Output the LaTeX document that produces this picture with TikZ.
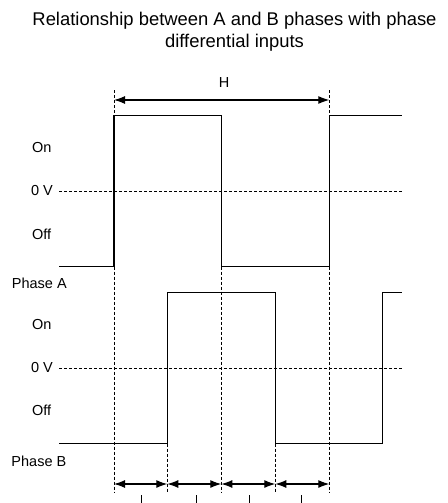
\documentclass[tikz,border=0pt]{standalone}
\usepackage{fontspec}
\setmainfont{Liberation Sans}
\usetikzlibrary{arrows.meta}

\tikzset{
  wave/.style={line width=1.1pt},
  guide/.style={line width=0.7pt, dash pattern=on 3pt off 2pt},
  span/.style={line width=1.1pt, {Latex[length=11pt,width=8pt]}-{Latex[length=11pt,width=8pt]}},
  lbl/.style={font=\fontsize{14.5}{16}\selectfont, inner sep=0pt}
}

\begin{document}
\begin{tikzpicture}[x=1pt,y=-1pt]
\useasboundingbox (0,0) rectangle (447,503);
% title
\node[font=\fontsize{18.4}{22}\selectfont, align=center, inner sep=0pt] (title) at (234.5,32)
  {Relationship between A and B phases with phase\\differential inputs};
% guide points
\coordinate (t1) at (114,90);
\coordinate (t1a) at (114,115.7);
\coordinate (t1b) at (114,266.7);
\coordinate (t5) at (329.3,90);
\coordinate (t5a) at (329.3,115.7);
\coordinate (t5b) at (329.3,266.7);
\coordinate (t3) at (221.3,266.7);
\coordinate (t2) at (167.3,443.7);
\coordinate (t4) at (275.3,443.7);
\coordinate (b1) at (114,493);
\coordinate (b2) at (167.3,493);
\coordinate (b3) at (221.3,493);
\coordinate (b4) at (275.3,493);
\coordinate (b5) at (329.3,493);
\draw[guide] (t1) -- (t1a);
\draw[guide] (t1b) -- (b1);
\draw[guide] (t5) -- (t5a);
\draw[guide] (t5b) -- (b5);
\draw[guide] (t2) -- (b2);
\draw[guide] (t3) -- (b3);
\draw[guide] (t4) -- (b4);
% zero lines
\coordinate (za) at (59.3,191);
\coordinate (zaend) at (401.7,191);
\coordinate (zb) at (59.3,368);
\coordinate (zbend) at (401.7,368);
\draw[guide] (za) -- (zaend);
\draw[guide] (zb) -- (zbend);
% phase A
\draw[wave] (59.3,266.7) -- (114,266.7) -- (114,115.7) -- (221.3,115.7) -- (221.3,266.7)
  -- (329.3,266.7) -- (329.3,115.7) -- (401.7,115.7);
% phase B
\draw[wave] (59.3,443.7) -- (167.3,443.7) -- (167.3,292.3) -- (275.3,292.3) -- (275.3,443.7)
  -- (382.7,443.7) -- (382.7,292.3) -- (401.7,292.3);
% H span
\coordinate (h1) at (114,100);
\coordinate (h2) at (329.3,100);
\draw[span] (h1) -- (h2);
\node[lbl] (hlbl) at (224,83) {H};
% quarter spans
\foreach \a/\b in {114/167.3, 167.3/221.3, 221.3/275.3, 275.3/329.3}{
  \draw[span] (\a,484) -- (\b,484);
}
\foreach \x in {141.7,196.7,249,301}{
  \draw[line width=0.9pt] (\x,495) -- (\x,503);
}
% labels
\node[lbl] (ona) at (41.7,148) {On};
\node[lbl, anchor=east] (zeroa) at (53,191) {0 V};
\node[lbl] (offa) at (41.7,234) {Off};
\node[lbl, anchor=west] (pha) at (11.7,283) {Phase A};
\node[lbl] (onb) at (41.7,324.5) {On};
\node[lbl, anchor=east] (zerob) at (53,368) {0 V};
\node[lbl] (offb) at (41.7,410) {Off};
\node[lbl, anchor=west] (phb) at (11.3,461.7) {Phase B};
\end{tikzpicture}
\end{document}
